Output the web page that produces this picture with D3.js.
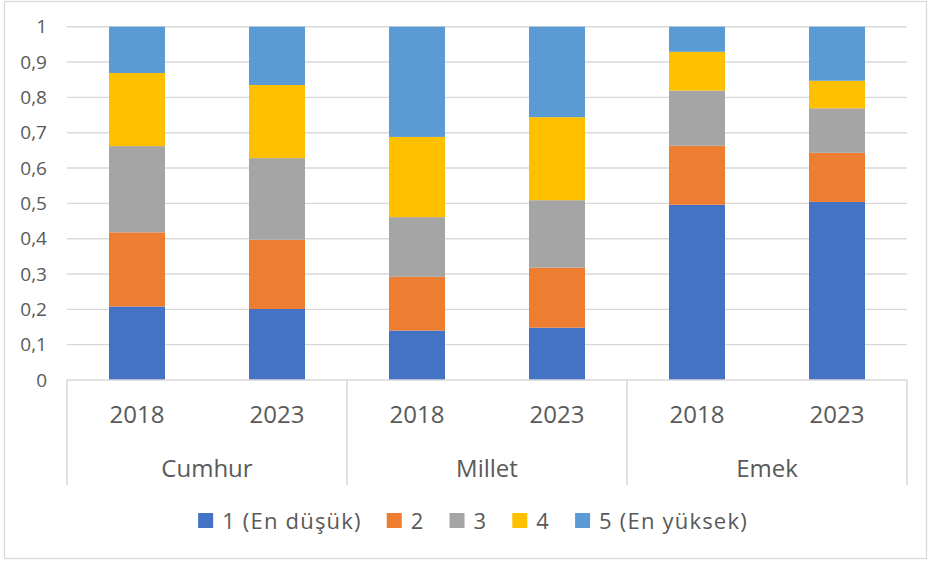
<!doctype html>
<html>
<head>
<meta charset="utf-8" />
<title>Stacked bars – Cumhur / Millet / Emek</title>
<script src="https://cdn.jsdelivr.net/npm/d3@7"></script>
<style>
  html,body{margin:0;background:#fff}
  svg{display:block;font-family:"Open Sans", sans-serif}
  .grid line{stroke:#d9d9d9;stroke-width:1.4}
  .tick-label{fill:#595959;font-size:19px}
  .cat-label{fill:#595959;font-size:24px}
  .leg-label{fill:#595959;font-size:22px;letter-spacing:1.2px}
</style>
</head>
<body>
<svg id="chart" width="930" height="563"></svg>
<script>
// ---- data ----
const groups = ['Cumhur', 'Millet', 'Emek'];
const years  = ['2018', '2023'];
const seriesNames = ['1 (En düşük)', '2', '3', '4', '5 (En yüksek)'];
const colors = ['#4472c4', '#ed7d31', '#a5a5a5', '#ffc000', '#5b9bd5'];
// one value per bar, order: Cumhur 2018, Cumhur 2023, Millet 2018, Millet 2023, Emek 2018, Emek 2023
const s1 = [0.208, 0.201, 0.140, 0.148, 0.496, 0.504];
const s2 = [0.210, 0.196, 0.152, 0.170, 0.167, 0.139];
const s3 = [0.244, 0.231, 0.169, 0.191, 0.156, 0.126];
const s4 = [0.207, 0.207, 0.227, 0.235, 0.110, 0.078];
const s5 = [0.131, 0.165, 0.312, 0.256, 0.071, 0.153];
const yTicks = [0, 0.1, 0.2, 0.3, 0.4, 0.5, 0.6, 0.7, 0.8, 0.9, 1];

const svg = d3.select('#chart');
const plot = {left: 67, right: 907, top: 26.7, bottom: 380};

// chart border
svg.append('rect')
  .attr('x', 4.5).attr('y', 1.5).attr('width', 922).attr('height', 557)
  .attr('fill', 'none').attr('stroke', '#d9d9d9').attr('stroke-width', 1.3);

// rows for stacking
const bars = [];
groups.forEach(g => years.forEach(y => bars.push({key: g + '|' + y, group: g, year: y})));
const seriesArr = [s1, s2, s3, s4, s5];
bars.forEach((b, i) => seriesNames.forEach((s, k) => b[s] = seriesArr[k][i]));

const x = d3.scaleBand()
  .domain(bars.map(b => b.key))
  .range([plot.left, plot.right])
  .paddingInner(0.6).paddingOuter(0.3);

const y = d3.scaleLinear().domain([0, 1]).range([plot.bottom, plot.top]);

// gridlines
svg.append('g').attr('class', 'grid')
  .selectAll('line').data(yTicks.filter(t => t > 0)).join('line')
  .attr('x1', plot.left).attr('x2', plot.right)
  .attr('y1', d => y(d)).attr('y2', d => y(d));

// y labels
const fmt = d => d === 0 ? '0' : d === 1 ? '1' : d3.format('.1f')(d).replace('.', ',');
svg.append('g').selectAll('text').data(yTicks).join('text')
  .attr('class', 'tick-label')
  .attr('x', 47).attr('y', d => y(d))
  .attr('text-anchor', 'end').attr('dy', '0.35em')
  .text(fmt);

// stacked bars
const stack = d3.stack().keys(seriesNames);
const layers = stack(bars);
svg.append('g').selectAll('g').data(layers).join('g')
  .attr('fill', (d, i) => colors[i])
  .selectAll('rect').data(d => d).join('rect')
  .attr('x', d => x(d.data.key))
  .attr('width', x.bandwidth())
  .attr('y', d => y(d[1]))
  .attr('height', d => y(d[0]) - y(d[1]));

// category axis (two levels)
const axisG = svg.append('g');
axisG.append('line')
  .attr('x1', plot.left).attr('x2', plot.right)
  .attr('y1', plot.bottom).attr('y2', plot.bottom)
  .attr('stroke', '#d9d9d9').attr('stroke-width', 1.6);

// group boundaries: halfway between last bar of one group and first of next
const step = x.step();
const groupEdges = [plot.left];
groups.forEach((g, i) => {
  if (i > 0) groupEdges.push(x(g + '|' + years[0]) - step * x.paddingInner() / 2);
});
groupEdges.push(plot.right);
axisG.selectAll('line.sep').data(groupEdges).join('line')
  .attr('class', 'sep')
  .attr('x1', d => d).attr('x2', d => d)
  .attr('y1', plot.bottom).attr('y2', 485)
  .attr('stroke', '#d9d9d9').attr('stroke-width', 1.6);

axisG.selectAll('text.year').data(bars).join('text')
  .attr('class', 'cat-label year')
  .attr('x', d => x(d.key) + x.bandwidth() / 2)
  .attr('y', 423)
  .attr('text-anchor', 'middle')
  .text(d => d.year);

axisG.selectAll('text.grp').data(groups).join('text')
  .attr('class', 'cat-label grp')
  .attr('x', (d, i) => (groupEdges[i] + groupEdges[i + 1]) / 2)
  .attr('y', 477)
  .attr('text-anchor', 'middle')
  .text(d => d);

// legend
const leg = svg.append('g');
const items = leg.selectAll('g').data(seriesNames).join('g');
items.append('rect').attr('width', 15).attr('height', 15).attr('y', -16)
  .attr('fill', (d, i) => colors[i]);
items.append('text').attr('class', 'leg-label')
  .attr('x', 24).attr('y', 0)
  .text(d => d);
let cx = 0;
items.each(function () {
  const w = this.getBBox().width;
  d3.select(this).attr('data-x', cx);
  cx += w + 25;
});
const totalW = cx - 25;
const legStart = 473 - totalW / 2;
items.attr('transform', function () {
  return `translate(${legStart + +this.getAttribute('data-x')},529)`;
});
</script>
</body>
</html>
